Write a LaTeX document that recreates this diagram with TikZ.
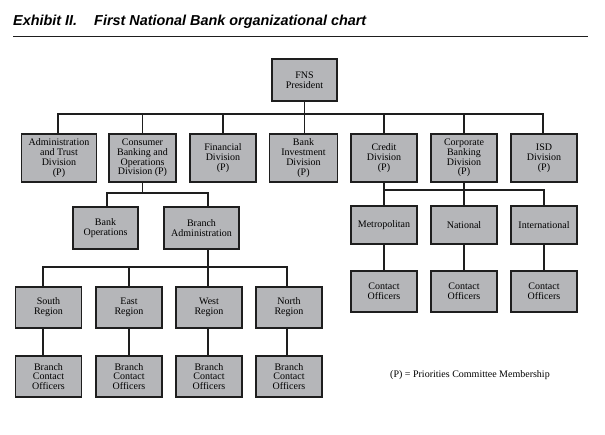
\documentclass[tikz,border=0pt]{standalone}
\usepackage{fontspec}
\setmainfont{Liberation Serif}
\setsansfont{Liberation Sans}
\usetikzlibrary{positioning,calc}
\definecolor{fnbgray}{HTML}{B5B6B9}
\definecolor{fnbline}{HTML}{1E1E1E}

\begin{document}
\begin{tikzpicture}[
    x=1pt, y=-1pt,
    orgbox/.style={rectangle, draw=fnbline, fill=fnbgray, line width=1.6pt,
                   minimum width=#1, minimum height=41.5pt, inner sep=1pt,
                   font=\fontsize{10}{9.8}\selectfont, align=center},
    orgbox/.default=66pt,
    divbox/.style={orgbox=#1, minimum height=48.5pt},
    link/.style={draw=fnbline, line width=1.1pt}
]
\useasboundingbox (0,0) rectangle (605,435);

\node[anchor=base west, inner sep=0, font=\sffamily\bfseries\itshape\fontsize{14.4}{16}\selectfont]
    (title) at (13,26) {Exhibit II.\hspace{13pt} First National Bank organizational chart};
\draw[line width=1pt, fnbline] (13,37) -- (588,37);

\node[orgbox=65.5pt] (pres) at (304.5,80) {FNS\\President};

\node[divbox=75pt] (admin)   at (59,158)    {Administration\\and Trust\\Division\\(P)};
\node[divbox=67pt] (cons)    at (142.5,158) {Consumer\\Banking and\\Operations\\Division (P)};
\node[divbox=66pt] (fin)     at (223,158)   {Financial\\Division\\(P)};
\node[divbox=68pt] (bankinv) at (303.5,158) {Bank\\Investment\\Division\\(P)};
\node[divbox=66pt] (credit)  at (384,158)   {Credit\\Division\\(P)};
\node[divbox=65.5pt] (corp)  at (464,158)   {Corporate\\Banking\\Division\\(P)};
\node[divbox=66pt] (isd)     at (544,158)   {ISD\\Division\\(P)};

\node[orgbox=65.5pt] (bankops)   at (105.5,228) {Bank\\Operations};
\node[orgbox=75.5pt] (branchadm) at (201.5,228) {Branch\\Administration};

\node[orgbox=66pt, minimum height=38.5pt] (metro) at (384,225) {Metropolitan};
\node[orgbox=65.5pt, minimum height=38.5pt] (natl) at (464,225) {National};
\node[orgbox=66pt, minimum height=38.5pt] (intl)  at (544,225) {International};

\node[orgbox=66pt] (metroco) at (384,291.5) {Contact\\Officers};
\node[orgbox=65.5pt] (natlco) at (464,291.5) {Contact\\Officers};
\node[orgbox=66pt] (intlco)  at (544,291.5) {Contact\\Officers};

\node[orgbox] (south) at (48.5,307.5) {South\\Region};
\node[orgbox] (east)  at (129,307.5)  {East\\Region};
\node[orgbox] (west)  at (209,307.5)  {West\\Region};
\node[orgbox] (north) at (289,307.5)  {North\\Region};

\node[orgbox] (southbco) at (48.5,376.5) {Branch\\Contact\\Officers};
\node[orgbox] (eastbco)  at (129,376.5)  {Branch\\Contact\\Officers};
\node[orgbox] (westbco)  at (209,376.5)  {Branch\\Contact\\Officers};
\node[orgbox] (northbco) at (289,376.5)  {Branch\\Contact\\Officers};

\node[font=\fontsize{10}{12}\selectfont] (legend) at (470,375) {(P) = Priorities Committee Membership};

\coordinate (topbus) at (0,114);
\coordinate (consbus) at (0,193);
\coordinate (regbus) at (0,267);
\coordinate (riskbus) at (0,190);

\draw[link] (pres.south) -- (pres.south |- bankinv.north);
\draw[link] ([xshift=-1pt]admin.north) -- ([xshift=-1pt]admin.north |- topbus) -| ([xshift=-1pt]isd.north);
\foreach \n in {cons,fin,credit,corp}
    \draw[link] (\n.north) -- (\n.north |- topbus);

\draw[link] (cons.south) -- (cons.south |- consbus);
\draw[link] ([xshift=1.5pt]bankops.north) -- ([xshift=1.5pt]bankops.north |- consbus) -| ([xshift=6.5pt]branchadm.north);
\draw[link] ([xshift=6.5pt]branchadm.south) -- ([xshift=6.5pt]branchadm.south |- regbus);
\draw[link] ([xshift=-5.5pt]south.north) -- ([xshift=-5.5pt]south.north |- regbus) -| ([xshift=-2pt]north.north);
\draw[link] (east.north) -- (east.north |- regbus);
\draw[link] ([xshift=-1pt]west.north) -- ([xshift=-1pt]west.north |- regbus);

\draw[link] ([xshift=-5.5pt]south.south) -- ([xshift=-5.5pt]southbco.north);
\draw[link] (east) -- (eastbco);
\draw[link] ([xshift=-1pt]west.south) -- ([xshift=-1pt]westbco.north);
\draw[link] ([xshift=-2pt]north.south) -- ([xshift=-2pt]northbco.north);

\draw[link] (credit) -- (metro);
\draw[link] (corp) -- (natl);
\draw[link] (credit.south |- riskbus) -| (intl.north);
\draw[link] (metro) -- (metroco);
\draw[link] (natl) -- (natlco);
\draw[link] (intl) -- (intlco);

\end{tikzpicture}
\end{document}
